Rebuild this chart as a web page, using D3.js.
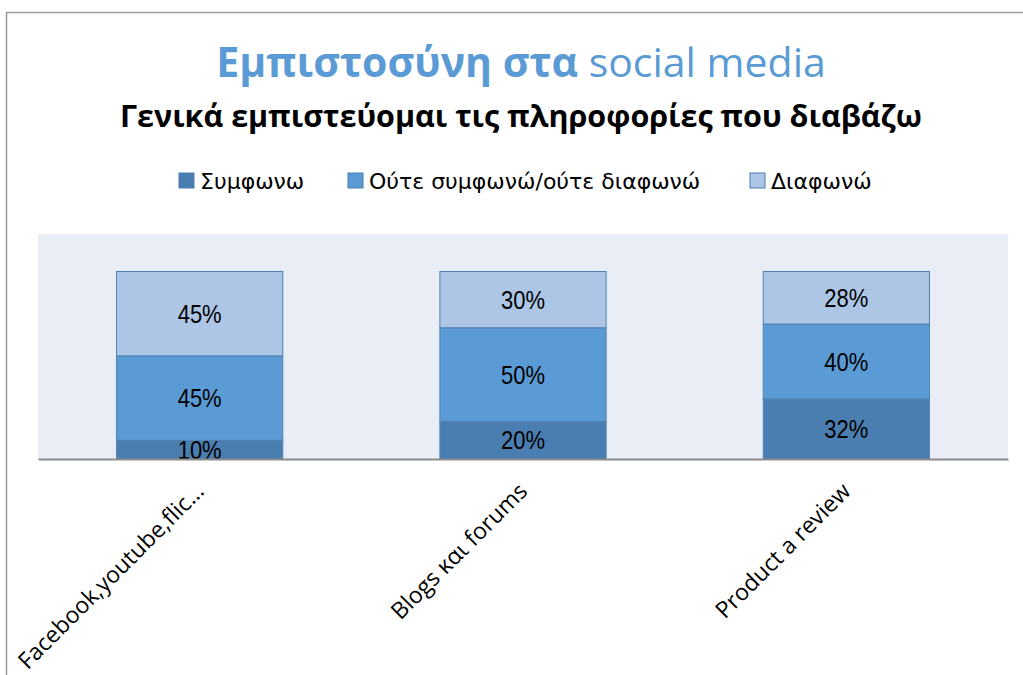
<!DOCTYPE html>
<html><head><meta charset="utf-8">
<script src="https://cdn.jsdelivr.net/npm/d3@7"></script>
<style>body{margin:0;background:#fff;}svg{display:block;}</style>
</head><body>
<svg id="c" width="1023" height="675"></svg>
<script>
const categories = ["Facebook,youtube,flic…", "Blogs και forums", "Product a review"];
const seriesNames = ["Συμφωνω", "Ούτε συμφωνώ/ούτε διαφωνώ", "Διαφωνώ"];
const agree = [10, 20, 32];
const neutral = [45, 50, 40];
const disagree = [45, 30, 28];
const colors = ["#4A7EB0", "#5B9BD5", "#ADC6E6"];

const svg = d3.select("#c");
const W = 1023, H = 675;

// frame
svg.append("path").attr("d", `M6.5,${H} L6.5,12.5 L${W},12.5`).attr("fill","none").attr("stroke","#9a9a9a").attr("stroke-width",1.5);

// title
const t = svg.append("text").attr("x", 521).attr("y", 77).attr("text-anchor","middle")
  .attr("font-family","'Open Sans', sans-serif").attr("font-size", 41).attr("fill","#5B9BD5");
t.append("tspan").attr("font-weight","bold").text("Εμπιστοσύνη στα ");
t.append("tspan").text("social media");

svg.append("text").attr("x", 521).attr("y", 127).attr("text-anchor","middle")
  .attr("font-family","'Open Sans', sans-serif").attr("font-size", 30.5).attr("font-weight","bold").attr("fill","#000")
  .text("Γενικά εμπιστεύομαι τις πληροφορίες που διαβάζω");

// legend
const legendX = [179, 348, 750];
const lg = svg.append("g");
seriesNames.forEach((n,i)=>{
  lg.append("rect").attr("x", legendX[i]).attr("y", 173).attr("width",15).attr("height",15)
    .attr("fill", colors[i]).attr("stroke", "#4A7EB0").attr("stroke-width",1);
  lg.append("text").attr("x", legendX[i]+21).attr("y", 189)
    .attr("font-family","'DejaVu Sans', sans-serif").attr("font-size",22).attr("fill","#000").text(n);
});

// plot
const m = {left:38, right:1008, top:234, bottom:459};
svg.append("rect").attr("x", m.left).attr("y", m.top).attr("width", m.right-m.left).attr("height", m.bottom-m.top).attr("fill","#E9EDF6");

const x = d3.scaleBand().domain(categories).range([m.left, m.right]).paddingInner(0.486).paddingOuter(0.243);
const y = d3.scaleLinear().domain([0, 120]).range([m.bottom, m.bottom - 187.5*1.2]);

const rows = categories.map((c,i)=>({cat:c, a:agree[i], n:neutral[i], d:disagree[i]}));
const stack = d3.stack().keys(["a","n","d"])(rows);

const g = svg.append("g");
stack.forEach((layer, li)=>{
  layer.forEach(seg=>{
    g.append("rect").attr("x", x(seg.data.cat)).attr("y", y(seg[1]))
      .attr("width", x.bandwidth()).attr("height", y(seg[0]) - y(seg[1]))
      .attr("fill", colors[li]).attr("stroke", "#4F81B4").attr("stroke-width", 1);
    const cx = x(seg.data.cat) + x.bandwidth()/2, cy = (y(seg[0])+y(seg[1]))/2;
    g.append("text").attr("transform", `translate(${cx},${cy}) scale(0.88,1)`)
      .attr("dy","0.36em").attr("text-anchor","middle")
      .attr("font-family","'Liberation Sans', Arial, sans-serif").attr("font-size",25).attr("fill","#000")
      .text((seg[1]-seg[0]) + "%");
  });
});

// baseline axis
const ax = svg.append("g").attr("transform", `translate(0,${m.bottom})`)
  .call(d3.axisBottom(x).tickSize(0).tickSizeOuter(0).tickPadding(0));
ax.select(".domain").attr("stroke","#8c8c8c").attr("stroke-width",2);
ax.selectAll(".tick text").attr("font-family","'Open Sans', sans-serif").attr("font-size",23).attr("fill","#000")
  .attr("text-anchor","end").attr("dy","0.35em")
  .attr("transform","translate(0,28) rotate(-45)").attr("y",0).attr("x",0);
</script>
</body></html>
